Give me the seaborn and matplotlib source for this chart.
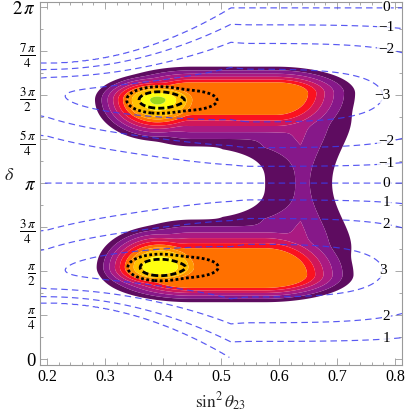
"""
plot.py

sin^2(theta23) vs delta: filled likelihood bands, CP-odd iso-lines (blue)
and allowed-region contours (black).
"""

import matplotlib
matplotlib.use("Agg")
import matplotlib.pyplot as plt
import matplotlib.ticker as ticker
import numpy as np
import seaborn as sns

PI = np.pi

# ─── Axis ranges / ticks ──────────────────────────────────────────────────────
X_RANGE = (0.188, 0.812)
D_RANGE = (-0.107, 6.373)
X_TICKS = [0.2, 0.3, 0.4, 0.5, 0.6, 0.7, 0.8]
X_TICK_LABELS = ["0.2", "0.3", "0.4", "0.5", "0.6", "0.7", "0.8"]
D_TICKS = [k * PI / 4 for k in range(9)]
D_TICK_LABELS = ["0", r"$\frac{\pi}{4}$", r"$\frac{\pi}{2}$", r"$\frac{3\,\pi}{4}$",
                 r"$\pi$", r"$\frac{5\,\pi}{4}$", r"$\frac{3\,\pi}{2}$",
                 r"$\frac{7\,\pi}{4}$", r"$2\,\pi$"]

# ─── Filled likelihood: a peak and a ridge for each lobe ─────────────────────
COMP_NAMES = ["peak_up", "ridge_up", "peak_lo", "ridge_lo"]
COMP_X     = [0.390, 0.522, 0.393, 0.512]
COMP_D     = [4.630, 4.746, 1.640, 1.507]
COMP_HWX   = [0.000, 0.072, 0.000, 0.062]
COMP_BXL   = [0.0095, 0.0159, 0.0095, 0.0157]
COMP_BXR   = [0.0110, 0.0159, 0.0110, 0.0157]
COMP_BDL   = [0.065, 0.110, 0.042, 0.050]
COMP_BDH   = [0.042, 0.055, 0.065, 0.100]
COMP_TOP   = [12.3, 9.62, 12.3, 10.83]
COMP_CAP   = [12.3, 6.60, 10.8, 6.60]

# bridge joining the lobes near delta = pi
BRIDGE_X     = 0.637
BRIDGE_BASE  = 2.7
BRIDGE_RISE  = 1.6
BRIDGE_FALL  = 0.62
BRIDGE_BXL   = 0.06
BRIDGE_BXR   = 0.032

# empty region between the lobes (centre x, centre delta, half-axes, shape, edge slope)
HOLE_CENTRE = [0.300, PI]
HOLE_AXES   = [0.276, 0.720]
HOLE_SHAPE  = 3.0
HOLE_SLOPE  = 6.4

FILL_LEVELS = [1.0, 2.2, 3.3, 4.3, 5.2, 6.1, 6.9, 7.7, 9.35, 11.0, 40.0]
FILL_COLORS = ["#5e0c60", "#861889", "#aa1a82", "#d0175a", "#fa1220",
               "#ff7000", "#ff9800", "#ffc200", "#ffff10", "#9cd81c"]

# ─── Blue CP-odd iso-lines ────────────────────────────────────────────────────
CP_LEVELS = [-3, -2, -1, 0, 1, 2, 3]
CP_AMP    = [3.37, 66.0, 0.505]          # max amplitude, quartic fall-off, centre
CP_ZERO   = [2.14, 9.8, 0.20, 3.125]     # zero crossing: base, growth, start, cap
CP_SKEW   = [1.3, 0.55, 0.35, 1.5]       # skew: extra power, end, width, shape
CP_LABEL_X = 0.785

# ─── Black allowed regions ────────────────────────────────────────────────────
REG_X  = [0.392, 0.445, 0.394, 0.447]
REG_D  = [4.625, 4.620, 1.635, 1.640]
REG_SX = [0.022, 0.028, 0.022, 0.028]
REG_SD = [0.095, 0.100, 0.095, 0.100]
REG_W  = [1.0, 0.2, 1.0, 0.2]
REG_LEVELS = [2.30, 6.18]

# ─── Style ────────────────────────────────────────────────────────────────────
FRAME = "#9a9a9a"
BLUE = "#3c3cf0"
SERIF = ["Liberation Serif", "DejaVu Serif"]


def component(X, D, i):
    dx = X - COMP_X[i]
    dd = D - COMP_D[i]
    ux = np.maximum(np.abs(dx) - COMP_HWX[i], 0) / np.where(dx < 0, COMP_BXL[i], COMP_BXR[i])
    ud = np.abs(dd) / np.where(dd < 0, COMP_BDL[i], COMP_BDH[i])
    return np.minimum(COMP_CAP[i], COMP_TOP[i] - np.hypot(ux, ud))


def hole_field(X, D):
    u = np.abs(X - HOLE_CENTRE[0]) / HOLE_AXES[0]
    v = np.abs(D - HOLE_CENTRE[1]) / HOLE_AXES[1]
    rho = (u ** HOLE_SHAPE + v ** HOLE_SHAPE) ** (1 / HOLE_SHAPE)
    return 1 + HOLE_SLOPE * (rho - 1)


def bridge(X, D):
    ad = np.abs(D - PI)
    dx = X - BRIDGE_X
    side = np.where(dx < 0, -dx / BRIDGE_BXL, dx / BRIDGE_BXR)
    e = BRIDGE_BASE + BRIDGE_RISE * ad ** 2 - BRIDGE_FALL * ad ** 4 - side
    return np.minimum(e, hole_field(X, D))


def likelihood(X, D, beta=4.0):
    parts = [component(X, D, i) for i in range(len(COMP_NAMES))] + [bridge(X, D)]
    return np.logaddexp.reduce(beta * np.array(parts), axis=0) / beta


def cp_odd(X, D):
    amp = CP_AMP[0] - CP_AMP[1] * (X - CP_AMP[2]) ** 4
    zero = np.minimum(CP_ZERO[3], CP_ZERO[0] + CP_ZERO[1] * (X - CP_ZERO[2]) ** 2)
    gam = 1 + CP_SKEW[0] * np.clip((CP_SKEW[1] - X) / CP_SKEW[2], 0, 1) ** CP_SKEW[3]
    t = D - PI
    f = np.abs(t) / zero
    prof = np.where(f <= 1, np.sin(PI * np.minimum(f, 1) ** gam), -0.3 * (f - 1))
    return -np.sign(t) * amp * prof


def allowed_chi2(X, D):
    tot = np.zeros_like(X)
    for x0, d0, sx, sd, w in zip(REG_X, REG_D, REG_SX, REG_SD, REG_W):
        tot += w * np.exp(-0.5 * (((X - x0) / sx) ** 2 + ((D - d0) / sd) ** 2))
    return -2 * np.log(tot + 1e-300)


sns.set_theme(style="ticks", rc={
    "axes.edgecolor": FRAME, "axes.linewidth": 0.8,
    "xtick.color": FRAME, "ytick.color": FRAME,
    "xtick.labelcolor": "black", "ytick.labelcolor": "black",
})
plt.rcParams["font.family"] = SERIF
plt.rcParams["mathtext.fontset"] = "stix"

fig = plt.figure(figsize=(4.09, 4.13), dpi=100)
ax = fig.add_axes([0.098, 0.116, 0.885, 0.879])

xs = np.linspace(*X_RANGE, 600)
ds = np.linspace(*D_RANGE, 800)
X, D = np.meshgrid(xs, ds)

ax.contourf(X, D, likelihood(X, D), levels=FILL_LEVELS,
            colors=sns.color_palette(FILL_COLORS), antialiased=True)

# blue iso-lines (kept off the very bottom row so delta=0 is not drawn)
dg = np.linspace(0.03, D_RANGE[1], 800)
XG, DG = np.meshgrid(xs, dg)
cs = ax.contour(XG, DG, cp_odd(XG, DG), levels=CP_LEVELS, colors=BLUE,
                linewidths=0.85, linestyles=[(0, (5.5, 3.5))], alpha=0.85)

for lev, segs in zip(CP_LEVELS, cs.allsegs):
    for seg in segs:
        if seg[:, 0].max() < 0.7:
            continue
        inside = seg[seg[:, 0] <= CP_LABEL_X]
        if len(inside) == 0:
            continue
        px, py = inside[np.argmax(inside[:, 0])]
        txt = str(lev).replace("-", "\u2212")
        ax.text(px, py, txt, ha="center", va="center", fontsize=11,
                family=SERIF, color="black",
                bbox=dict(boxstyle="square,pad=0.05", fc="white", ec="none", alpha=0.8))

ax.contour(X, D, allowed_chi2(X, D), levels=REG_LEVELS, colors="black",
           linewidths=2.0, linestyles=[(0, (2.2, 1.1)), (0, (1.0, 0.9))])

ax.set_xlim(*X_RANGE)
ax.set_ylim(*D_RANGE)
ax.set_xticks(X_TICKS)
ax.set_xticklabels(X_TICK_LABELS)
ax.set_yticks(D_TICKS)
ax.set_yticklabels(D_TICK_LABELS)
ax.xaxis.set_minor_locator(ticker.MultipleLocator(0.02))
ax.yaxis.set_minor_locator(ticker.MultipleLocator(PI / 8))
ax.tick_params(which="both", direction="in", top=True, right=True, width=0.6)
ax.tick_params(which="major", length=5, labelsize=11.5, pad=3)
ax.tick_params(which="minor", length=2.5)
ax.tick_params(axis="y", labelsize=13.5)
for lab in ax.get_xticklabels() + ax.get_yticklabels():
    lab.set_family(SERIF)

ax.set_xlabel(r"$\sin^2\theta_{23}$", fontsize=12.5, labelpad=4)
ax.set_ylabel(r"$\delta$", fontsize=13, rotation=0)
ax.yaxis.set_label_coords(-0.085, 0.5)

fig.savefig("out.png", dpi=100)
